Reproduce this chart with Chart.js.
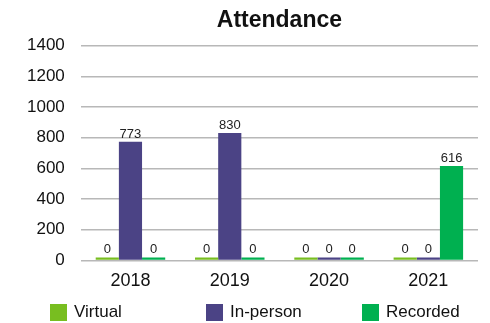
<!DOCTYPE html>
<html>
<head>
<meta charset="utf-8">
<script src="https://cdn.jsdelivr.net/npm/chart.js@4/dist/chart.umd.min.js"></script>
<style>
  html, body { margin: 0; padding: 0; background: #fff; }
  #wrap { position: relative; width: 490px; height: 323px; }
  #legend {
    position: absolute; left: 50px; top: 303px; display: flex;
    font-family: "Helvetica Neue", Helvetica, "Liberation Sans", Arial, sans-serif;
    font-size: 17px; color: #111; line-height: 18px;
  }
  #legend .item { width: 156px; display: flex; align-items: center; }
  #legend .swatch { width: 17px; height: 17px; margin-right: 7px; flex: none; }
</style>
</head>
<body>
<div id="wrap">
  <canvas id="chart" width="490" height="323"></canvas>
  <div id="legend"></div>
</div>
<script>
const years = ['2018', '2019', '2020', '2021'];
const virtual = [0, 0, 0, 0];
const inPerson = [773, 830, 0, 0];
const recorded = [0, 0, 0, 616];
const yTicks = [0, 200, 400, 600, 800, 1000, 1200, 1400];

const FONT = '"Helvetica Neue", Helvetica, "Liberation Sans", Arial, sans-serif';

// value labels above each bar
const barValues = {
  id: 'barValues',
  afterDatasetsDraw(chart) {
    const ctx = chart.ctx;
    ctx.save();
    ctx.font = '13px ' + FONT;
    ctx.fillStyle = '#222';
    ctx.textAlign = 'center';
    ctx.textBaseline = 'bottom';
    chart.data.datasets.forEach((ds, i) => {
      chart.getDatasetMeta(i).data.forEach((bar, j) => {
        ctx.fillText(String(ds.data[j]), bar.x, bar.y - 1);
      });
    });
    ctx.restore();
  }
};

const chart = new Chart(document.getElementById('chart'), {
  type: 'bar',
  data: {
    labels: years,
    datasets: [
      { label: 'Virtual', data: virtual, backgroundColor: '#78BE20' },
      { label: 'In-person', data: inPerson, backgroundColor: '#4B4385' },
      { label: 'Recorded', data: recorded, backgroundColor: '#00B050' }
    ]
  },
  options: {
    responsive: false,
    animation: false,
    devicePixelRatio: 1,
    layout: { padding: { left: 11, right: 12, top: 0, bottom: 21 } },
    datasets: {
      bar: { categoryPercentage: 0.7, barPercentage: 1.0, minBarLength: 3 }
    },
    plugins: {
      legend: { display: false },
      tooltip: { enabled: false },
      title: {
        display: true,
        text: 'Attendance',
        fullSize: false,
        color: '#111',
        font: { family: FONT, size: 23, weight: 'bold' },
        padding: { top: 7, bottom: 11 }
      }
    },
    scales: {
      x: {
        grid: { display: false, drawTicks: false },
        border: { display: false },
        ticks: { color: '#111', font: { family: FONT, size: 18 }, padding: 10 }
      },
      y: {
        min: 0,
        max: 1400,
        afterBuildTicks(axis) { axis.ticks = yTicks.map(v => ({ value: v })); },
        grid: { color: '#b8b8b8', lineWidth: 1.5, drawTicks: false },
        border: { display: false },
        ticks: {
          color: '#111', font: { family: FONT, size: 17 }, padding: 16,
          callback: v => String(v)
        }
      }
    }
  },
  plugins: [barValues]
});

// legend built from the chart's datasets
const legend = document.getElementById('legend');
chart.data.datasets.forEach(ds => {
  const item = document.createElement('div');
  item.className = 'item';
  const sw = document.createElement('span');
  sw.className = 'swatch';
  sw.style.background = ds.backgroundColor;
  const txt = document.createElement('span');
  txt.textContent = ds.label;
  item.appendChild(sw);
  item.appendChild(txt);
  legend.appendChild(item);
});
</script>
</body>
</html>
